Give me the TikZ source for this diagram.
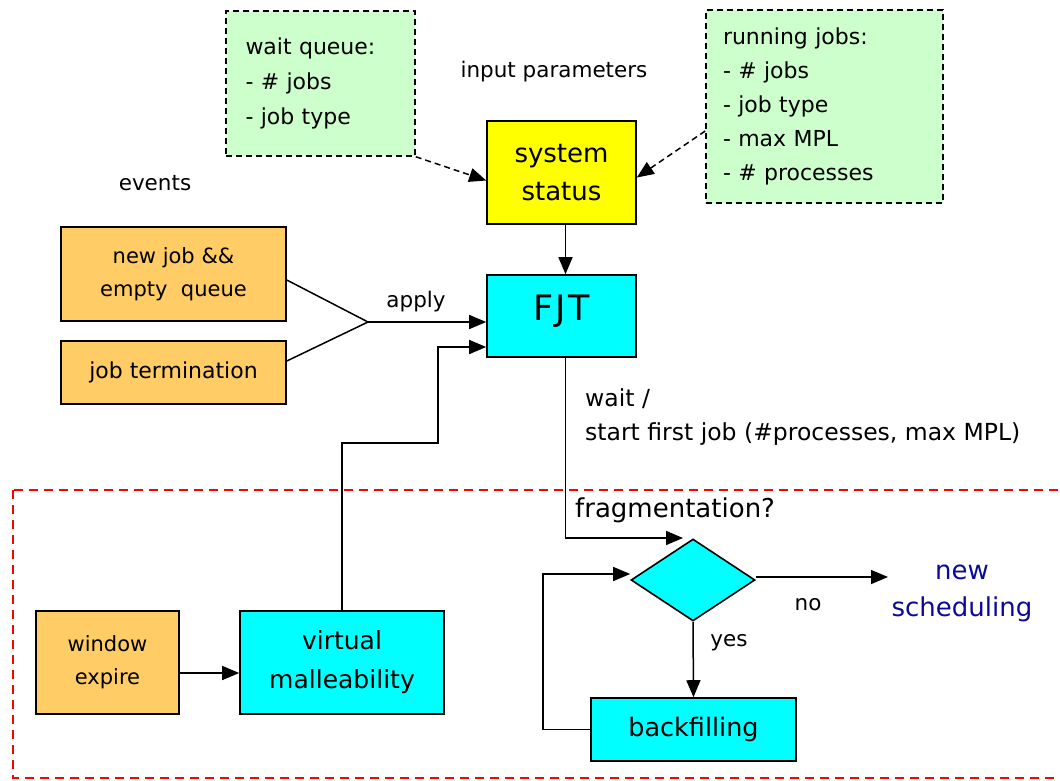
\documentclass[tikz,border=0pt]{standalone}
\usepackage{fontspec}
\setmainfont{DejaVu Sans}
\usetikzlibrary{arrows.meta,shapes.geometric}
\definecolor{notegreen}{HTML}{CCFFCC}
\definecolor{boxorange}{HTML}{FFCC66}
\definecolor{boxcyan}{HTML}{00FFFF}
\definecolor{boxyellow}{HTML}{FFFF00}
\definecolor{navyblue}{RGB}{10,10,150}
\newcommand{\fs}[1]{\fontsize{#1}{1.3\dimexpr#1pt\relax}\selectfont}
\begin{document}
\begin{tikzpicture}[x=1pt,y=-1pt,
  box/.style={draw, line width=1.6pt, inner sep=0pt, align=center},
  note/.style={draw, line width=1.5pt, dash pattern=on 6pt off 4pt, fill=notegreen, inner sep=0pt, align=left},
  arr/.style={-{Triangle[length=17pt,width=14pt]}, line width=1.5pt},
  dasharr/.style={arr, dash pattern=on 6pt off 4pt},
  plain/.style={line width=1.5pt},
  lbl/.style={inner sep=0pt, font=\fs{21.5}}
]
\useasboundingbox (0,0) rectangle (1060,780);

% region
\draw[red, line width=2.2pt, dash pattern=on 9pt off 6pt] (13,490) rectangle (1080,778);

% notes
\node[note, minimum width=189pt, minimum height=145pt, text width=150pt,
      font=\fontsize{22}{35}\selectfont] (wq) at (320.5,83.5)
  {wait queue:\\- \# jobs\\- job type};
\node[note, minimum width=237pt, minimum height=193pt, text width=203pt,
      font=\fontsize{22}{34}\selectfont] (rj) at (824.5,106.5)
  {running jobs:\\- \# jobs\\- job type\\- max MPL\\- \# processes};
\node[lbl] (ip) at (554,72) {input parameters};

% system status and FJT
\node[box, fill=boxyellow, minimum width=149pt, minimum height=103pt,
      font=\fontsize{26}{38}\selectfont] (ss) at (561.5,172.5) {system\\status};
\node[box, fill=boxcyan, minimum width=149pt, minimum height=82pt,
      text depth=16pt, font=\fs{35}] (fjt) at (561.5,316) {F\kern2pt J\kern2pt T};

% events
\node[lbl] (ev) at (155,183) {events};
\node[box, fill=boxorange, minimum width=225pt, minimum height=94pt,
      font=\fontsize{21}{33}\selectfont] (nj) at (173.5,274) {new job \&\&\\empty~~queue};
\node[box, fill=boxorange, minimum width=225pt, minimum height=63pt,
      font=\fs{22}] (jt) at (173.5,372.5) {job termination};
\coordinate (merge) at (368,322);
\node[lbl, anchor=south] (ap) at (416,312) {apply};

% lower
\node[box, fill=boxorange, minimum width=143pt, minimum height=103pt,
      font=\fontsize{21}{33}\selectfont] (we) at (107.5,662.5) {window\\expire};
\node[box, fill=boxcyan, minimum width=204pt, minimum height=103pt,
      font=\fontsize{25}{39}\selectfont] (vm) at (342,662.5) {virtual\\malleability};

\node[lbl, anchor=west, align=left, font=\fontsize{23.5}{34}\selectfont] (wt) at (585,417)
  {wait /\\start first job (\#processes, max MPL)};
\node[inner sep=0pt, anchor=west, font=\fs{26}] (fr) at (575,510) {fragmentation?};
\node[diamond, draw, line width=1.6pt, fill=boxcyan, aspect=1.5, inner sep=0pt,
      minimum width=124pt, minimum height=82pt] (dia) at (693,580) {};
\node[box, fill=boxcyan, minimum width=205pt, minimum height=63pt,
      font=\fs{25.5}] (bf) at (693.5,729.5) {backfilling};
\node[inner sep=0pt, align=center, text=navyblue, font=\fontsize{26}{37}\selectfont] (ns) at (962,593)
  {new\\scheduling};
\coordinate (nsin) at (888,577);
\node[lbl] (no) at (808,605) {no};
\node[lbl] (yes) at (729,643) {yes};

% connectors
\draw[dasharr] (wq.south east) -- ([yshift=-8pt]ss.west);
\draw[dasharr] ([yshift=-24.5pt]rj.west) -- ([yshift=-5pt]ss.east);
\draw[arr] ([xshift=4pt]ss.south) -- ([xshift=4pt]fjt.north);
\draw[plain] ([yshift=-6pt]nj.east) -- (merge);
\draw[plain] ([yshift=11.5pt]jt.east) -- (merge);
\draw[arr] (merge) -- (merge -| fjt.west);
\draw[arr] (vm.north) -- (vm.north |- 0,443) -- (438,443) -- (438,347) -- (fjt.west |- 0,347);
\draw[arr] (we.east |- 0,673) -- (vm.west |- 0,673);
\draw[arr] ([xshift=4pt]fjt.south) -- ([xshift=4pt]fjt.south |- 0,538) -- ([xshift=-10pt]dia.north |- 0,538);
\draw[arr] ([yshift=3pt]dia.east) -- (nsin);
\draw[arr] (dia.south) -- (bf.north);
\draw[arr] (bf.west) -- ++(-47,0) |- ([yshift=6pt]dia.west);
\end{tikzpicture}
\end{document}
